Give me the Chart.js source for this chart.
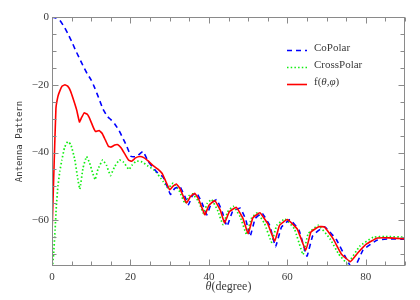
<!DOCTYPE html>
<html lang="en">
<head>
<meta charset="UTF-8">
<title>Antenna Pattern</title>
<script src="https://cdn.jsdelivr.net/npm/chart.js@4.4.0/dist/chart.umd.min.js"></script>
<style>
  body { margin: 0; background: #fff; }
</style>
</head>
<body>
<canvas id="chart" width="420" height="300"></canvas>
<script>
// values (theta in degrees, pattern in dB)
const coTheta = [0, 1, 2, 3, 4, 5, 6, 7, 8, 9, 10, 11, 12, 13, 14, 15, 16, 17, 18, 19,
  20.2, 21.5, 23.2, 24.5, 26.6, 28.3, 29.2, 30.2, 31.3, 32.6, 33.8, 34.8, 35.8, 36.9, 38.2, 39.5,
  40.6, 42, 43.4, 44.6, 46, 48, 49.4, 50.5, 51.8, 53.5, 55.5, 57, 58.5, 60.7, 63, 65, 66.5,
  69.5, 72.5, 74.7, 76.8, 79.3, 82.8, 86, 90];
const coValues = [0, -0.3, -1, -2.7, -4.8, -7.2, -9.8, -12.2, -14.6, -16.8, -18.6, -21.2, -24.2, -27.2, -29.2, -30.3, -31.6, -33.3, -35.6, -38,
  -41.2, -41.2, -39.7, -42.6, -45.6, -47.2, -49.5, -52.4, -50.6, -50, -52.8, -55.4, -52.7, -51.9, -54.8, -58.4,
  -55, -53.9, -57.5, -61.8, -57.5, -56.4, -59.8, -64.8, -59.5, -57.8, -61.5, -67.8, -62, -59.8, -63, -70.6, -64.5,
  -61.9, -65.7, -70.6, -74.8, -68.8, -65.9, -65.5, -65.6];

const crossTheta = [0.1, 0.4, 0.7, 1.1, 1.5, 2, 2.5, 3.2, 4, 4.8, 5.8, 6.6, 7.1, 7.9, 8.8, 9.6, 10.3, 11, 11.7,
  12.9, 13.9, 14.9, 16, 17.2, 18.2, 19.6, 20.5, 21.5, 23, 24.5, 26.2, 28.3, 29.6, 30.9, 32.4, 33.9, 34.9,
  35.8, 37.4, 38.6, 39.6, 40.7, 42.2, 43.6, 44.8, 46.2, 48, 49.6, 50.8, 52.3, 54.2, 56, 57.3, 59.4, 61.8,
  64, 65.3, 67.9, 70.9, 73, 75.3, 78.5, 81.9, 85, 90];
const crossValues = [-74, -70, -64.7, -56, -50, -45.5, -42.3, -38.5, -36.8, -37.6, -42, -48, -50.8, -44.6, -41.2, -43.1, -45.8, -48, -45,
  -42.2, -43.8, -46.8, -44.1, -42.2, -42.8, -45, -43.6, -42.5, -42.8, -44, -45.3, -48.5, -50.5, -49, -51.2, -55, -52.8,
  -52.2, -54.5, -58, -55, -53.9, -57, -61.3, -57.5, -55.9, -59, -64.2, -59.5, -57.8, -61, -66.5, -61.5, -59.6, -62.5,
  -70.1, -64, -61.5, -65.5, -69.8, -72.8, -67.6, -65, -64.8, -65];

const fTheta = [0, 0.5, 1, 1.5, 2, 2.6, 3.3, 4, 4.7, 5.5, 6.3, 7, 7.5, 8.2, 9, 9.7, 10.5, 11.1, 12, 12.8,
  13.6, 14.4, 15, 16, 16.8, 17.6, 18.6, 19.5, 20.3, 21.3, 22.4, 23.4, 24.5, 25.7, 27, 28.1, 29, 30,
  30.8, 31.7, 32.6, 33.5, 34.3, 35.3, 36.4, 37.4, 38.3, 39, 40, 41.5, 42.9, 44, 45.2, 47, 48.7, 50,
  51.2, 53, 55, 56.8, 58, 60, 62.5, 64.7, 66, 68, 69.5, 71.7, 73.8, 76.1, 78, 80.2, 82.8, 86, 90];
const fValues = [-64, -45, -27, -23.5, -21.8, -20.4, -20, -20.4, -21.8, -24.5, -27.5, -31, -29.8, -28.3, -28.7, -30.2, -32.5, -33.8, -33.5, -34.4,
  -36.3, -38.2, -38.4, -37.8, -37.7, -38.6, -40.5, -42.2, -42.6, -41.6, -41.2, -41.5, -42.5, -43.8, -44.9, -46.2, -48.5, -51,
  -50, -49.3, -50.6, -53, -54.9, -53, -52, -53.8, -56.5, -58.4, -55.6, -54.2, -57, -60.8, -57.5, -56.2, -59.5, -64,
  -59.3, -57.8, -61, -66.2, -61.5, -59.8, -62.5, -68.9, -63.5, -61.9, -62, -65.5, -70, -72.2, -69.6, -67, -65.3, -65.2, -65.5];

const seriesNames = ['CoPolar', 'CrossPolar', 'f(θ,φ)'];
const xTickLabels = [0, 20, 40, 60, 80];
const yTickLabels = [0, -20, -40, -60];

function toPoints(xs, ys) {
  return xs.map((x, i) => ({ x: x, y: ys[i] }));
}

const axisColor = '#8a8a8a';
const textColor = '#3a3a3a';
const serif = '"Liberation Serif", "Times New Roman", serif';

// draw a string, putting greek letters in italic
function richText(ctx, str, x, y, size) {
  for (const ch of str) {
    ctx.font = (/[θφ]/.test(ch) ? 'italic ' : '') + size + 'px ' + serif;
    ctx.fillText(ch, x, y);
    x += ctx.measureText(ch).width;
  }
}
function richWidth(ctx, str, size) {
  let w = 0;
  for (const ch of str) {
    ctx.font = (/[θφ]/.test(ch) ? 'italic ' : '') + size + 'px ' + serif;
    w += ctx.measureText(ch).width;
  }
  return w;
}

// box round the plot with inward ticks on all four sides
const framePlugin = {
  id: 'frame',
  afterDatasetsDraw(chart) {
    const { ctx, chartArea: a, scales } = chart;
    const L = Math.round(a.left) + 0.5, R = Math.round(a.right) - 0.5;
    const T = Math.round(a.top) + 0.5, B = Math.round(a.bottom) - 0.5;
    ctx.save();
    ctx.strokeStyle = axisColor;
    ctx.lineWidth = 1;
    ctx.strokeRect(L, T, R - L, B - T);
    ctx.beginPath();
    for (let v = 0; v <= scales.x.max; v += 5) {
      const px = Math.round(scales.x.getPixelForValue(v)) + 0.5;
      const len = v % 20 === 0 ? 6 : 4;
      ctx.moveTo(px, B); ctx.lineTo(px, B - len);
      ctx.moveTo(px, T); ctx.lineTo(px, T + len);
    }
    for (let v = 0; v >= scales.y.min; v -= 5) {
      const py = Math.round(scales.y.getPixelForValue(v)) + 0.5;
      const len = v % 20 === 0 ? 6 : 4;
      ctx.moveTo(L, py); ctx.lineTo(L + len, py);
      ctx.moveTo(R, py); ctx.lineTo(R - len, py);
    }
    ctx.stroke();
    ctx.restore();
  },
  afterDraw(chart) {
    const { ctx, chartArea: a } = chart;
    ctx.save();
    // legend inside the plot, top right
    const x0 = a.right - 118, y0 = a.top + 31;
    chart.data.datasets.forEach((ds, i) => {
      const y = y0 + i * 17;
      ctx.strokeStyle = ds.borderColor;
      ctx.lineWidth = ds.borderWidth;
      ctx.setLineDash(ds.borderDash || []);
      ctx.beginPath();
      ctx.moveTo(x0, y + 2.5);
      ctx.lineTo(x0 + 20, y + 2.5);
      ctx.stroke();
      ctx.setLineDash([]);
      ctx.fillStyle = textColor;
      ctx.textBaseline = 'middle';
      richText(ctx, ds.label, x0 + 27, y, 11);
    });
    // x axis title
    const title = 'θ(degree)';
    const w = richWidth(ctx, title, 12);
    ctx.textBaseline = 'middle';
    richText(ctx, title, (a.left + a.right) / 2 - w / 2, 287, 12);
    ctx.restore();
  }
};

const ctx = document.getElementById('chart').getContext('2d');
new Chart(ctx, {
  type: 'line',
  data: {
    datasets: [
      {
        label: seriesNames[0],
        data: toPoints(coTheta, coValues),
        borderColor: '#0000ff',
        borderWidth: 1.6,
        borderDash: [5, 4],
        order: 1
      },
      {
        label: seriesNames[1],
        data: toPoints(crossTheta, crossValues),
        borderColor: '#11ee11',
        borderWidth: 1.7,
        borderDash: [1.5, 2.2],
        order: 2
      },
      {
        label: seriesNames[2],
        data: toPoints(fTheta, fValues),
        borderColor: '#ff0000',
        borderWidth: 1.6,
        order: 0
      }
    ]
  },
  options: {
    responsive: false,
    animation: false,
    layout: { padding: { left: 0, right: 15, top: 17, bottom: 0 } },
    elements: {
      point: { radius: 0 },
      line: { tension: 0.1, fill: false }
    },
    plugins: {
      legend: { display: false },
      tooltip: { enabled: false }
    },
    scales: {
      x: {
        type: 'linear',
        min: 0,
        max: 90,
        border: { display: false },
        grid: { display: false, drawTicks: false },
        ticks: {
          stepSize: 20,
          padding: 5,
          color: textColor,
          font: { family: serif, size: 11 },
          callback: v => xTickLabels.includes(v) ? String(v) : ''
        },
        afterFit(s) { s.height = 34; }
      },
      y: {
        type: 'linear',
        min: -73.5,
        max: 0,
        border: { display: false },
        grid: { display: false, drawTicks: false },
        ticks: {
          stepSize: 20,
          padding: 3,
          color: textColor,
          font: { family: serif, size: 11 },
          callback: v => yTickLabels.includes(v) ? (v < 0 ? '\u2212' + Math.abs(v) : String(v)) : ''
        },
        title: {
          display: true,
          text: 'Antenna Pattern',
          color: textColor,
          font: { family: '"DejaVu Sans Mono", monospace', size: 9 },
          padding: { top: 14.5, bottom: 0 }
        },
        afterFit(s) { s.width = 52; }
      }
    }
  },
  plugins: [framePlugin]
});
</script>
</body>
</html>
